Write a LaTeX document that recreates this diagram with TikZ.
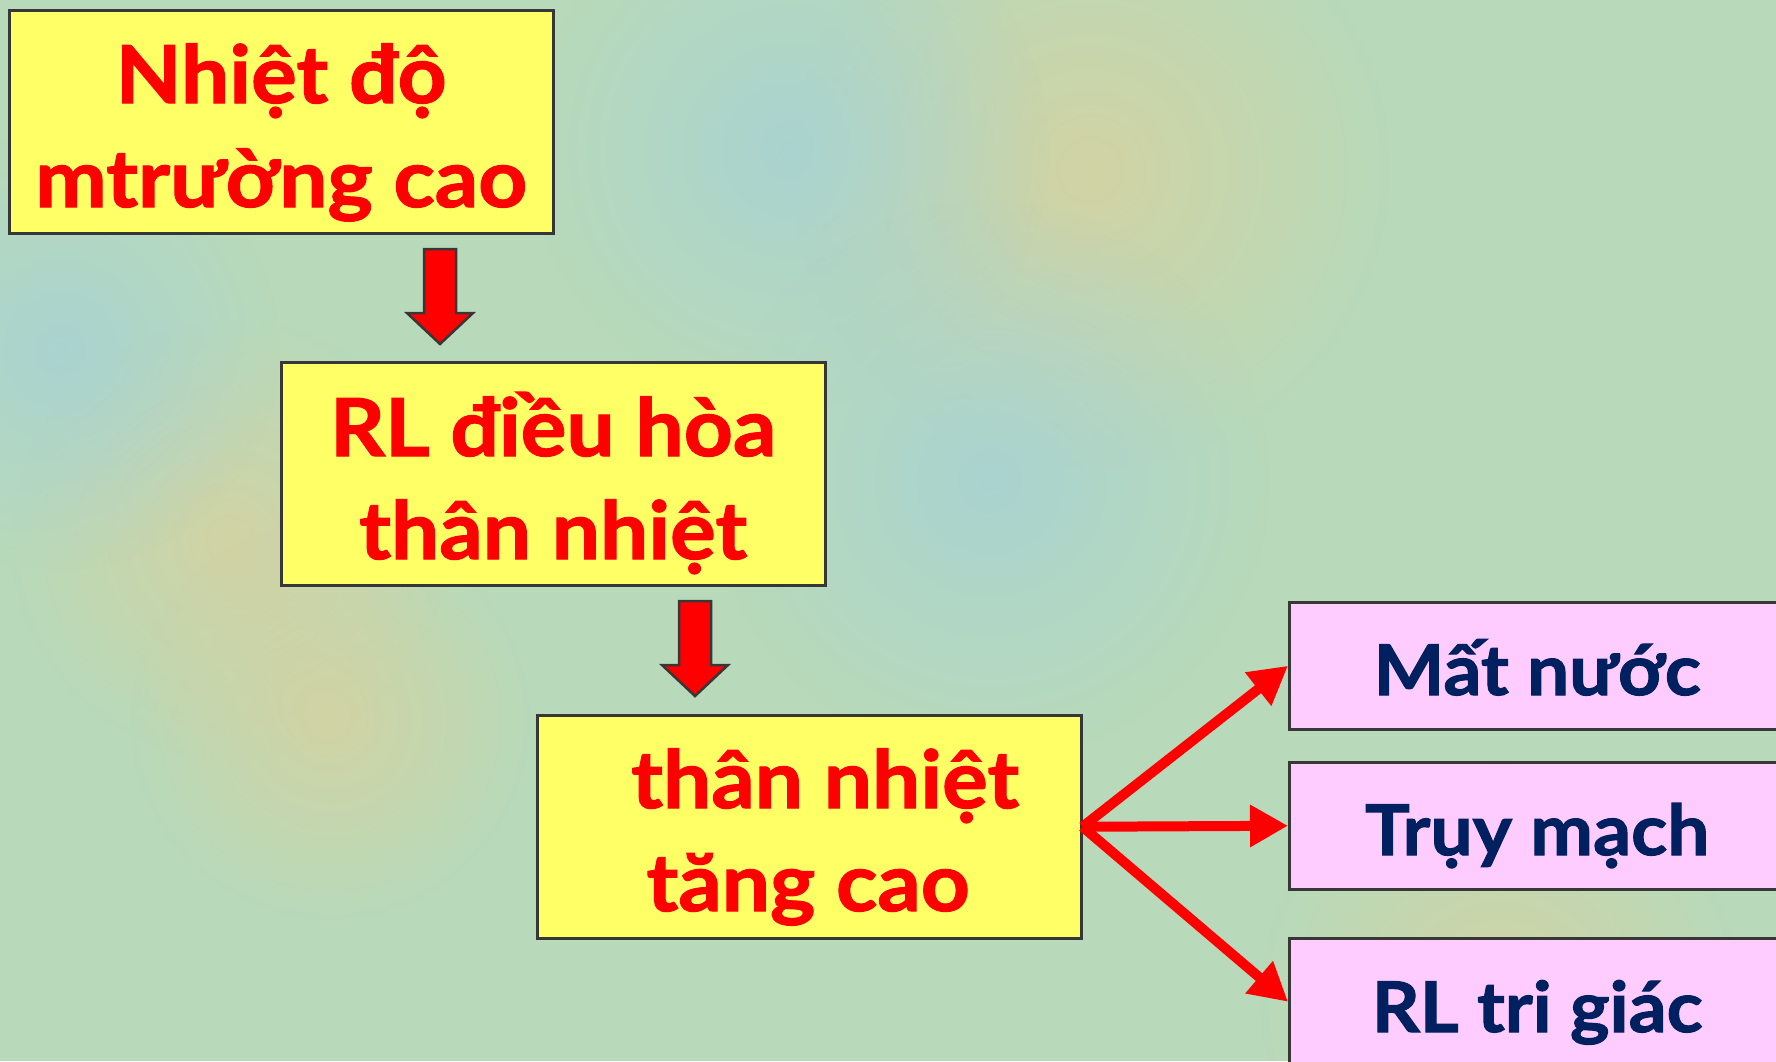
\documentclass[tikz,border=0pt]{standalone}
\usepackage{fontspec}
\setmainfont{Lato}[BoldFeatures={FakeStretch=1.07,FakeBold=1.5}]
\usetikzlibrary{calc,arrows.meta,fadings}
\definecolor{bgbase}{RGB}{184,218,186}
\definecolor{bgtan}{RGB}{214,210,160}
\definecolor{bgblue}{RGB}{168,210,212}
\definecolor{boxyellow}{RGB}{255,255,102}
\definecolor{boxpink}{RGB}{255,204,255}
\definecolor{txtred}{RGB}{255,0,0}
\definecolor{txtnavy}{RGB}{0,32,96}
\definecolor{edgegray}{RGB}{55,55,55}
\tikzfading[name=softblob, inner color=transparent!0, outer color=transparent!100]
\tikzset{
  ybox/.style={draw=edgegray, line width=2.5pt, fill=boxyellow, rectangle, inner sep=0pt,
    minimum width=544pt, minimum height=223pt, anchor=north west},
  pbox/.style={draw=edgegray, line width=2.5pt, fill=boxpink, rectangle, inner sep=0pt,
    minimum width=496pt, minimum height=127pt, anchor=north west},
  redtxt/.style={text=txtred, font=\fontsize{80}{104}\selectfont\bfseries, inner sep=0pt, anchor=base},
  navytxt/.style={text=txtnavy, font=\fontsize{70}{90}\selectfont\bfseries, inner sep=0pt, anchor=base},
  blockarr/.style={fill=txtred, draw=edgegray, line width=2.5pt, line join=miter},
  thinarr/.style={draw=txtred, line width=10pt, -{Triangle[length=38pt,width=40pt]}},
  blob/.style={path fading=softblob, fill opacity=0.85}
}
\newcommand\blockarrow[2]{%
  \path[blockarr] ($(#1)+(-16,0)$) -- ($(#1)+(16,0)$) -- ($(#2)+(16,-31)$) -- ($(#2)+(33,-31)$)
    -- (#2) -- ($(#2)+(-33,-31)$) -- ($(#2)+(-16,-31)$) -- cycle;}
\begin{document}
\begin{tikzpicture}[x=1pt,y=-1pt]
  % background
  \fill[bgbase] (0,0) rectangle (1776,1061);
  \useasboundingbox (0,0) rectangle (1776,1061);
  \fill[blob, bgtan] (1090,170) circle (300);
  \fill[blob, bgblue] (790,150) circle (260);
  \fill[blob, bgblue] (990,480) circle (280);
  \fill[blob, bgtan] (230,540) circle (220);
  \fill[blob, bgtan] (330,720) circle (200);
  \fill[blob, bgblue] (60,350) circle (220);
  \fill[blob, bgtan] (1500,1000) circle (240);

  % yellow boxes
  \node[ybox] (b1) at (8,9) {};
  \node[ybox] (b2) at (280,361) {};
  \node[ybox] (b3) at (536,714) {};
  \node[redtxt] (t1a) at ($(b1.north)+(0,94)$) {Nhiệt độ};
  \node[redtxt] (t1b) at ($(b1.north)+(0,198)$) {mtrường cao};
  \node[redtxt] (t2a) at ($(b2.north)+(0,95)$) {RL điều hòa};
  \node[redtxt] (t2b) at ($(b2.north)+(0,198)$) {thân nhiệt};
  \node[redtxt] (t3a) at ($(b3.north)+(16,94)$) {thân nhiệt};
  \node[redtxt] (t3b) at ($(b3.north)+(-1,197)$) {tăng cao};

  % pink boxes
  \node[pbox] (p1) at (1288,601) {};
  \node[pbox] (p2) at (1288,761) {};
  \node[pbox] (p3) at (1288,937) {};
  \node[navytxt] (q1) at ($(p1.north)+(0,94)$) {Mất nước};
  \node[navytxt] (q2) at ($(p2.north)+(0,94)$) {Trụy mạch};
  \node[navytxt] (q3) at ($(p3.north)+(0,95)$) {RL tri giác};

  % block arrows
  \coordinate (a1s) at (440,249);
  \coordinate (a1e) at (440,344);
  \coordinate (a2s) at (695,601);
  \coordinate (a2e) at (695,696);
  \blockarrow{a1s}{a1e}
  \blockarrow{a2s}{a2e}

  % thin arrows
  \draw[thinarr] (b3.east) -- (p1.west);
  \draw[thinarr] (b3.east) -- (p2.west);
  \draw[thinarr] (b3.east) -- (p3.west);
\end{tikzpicture}
\end{document}
